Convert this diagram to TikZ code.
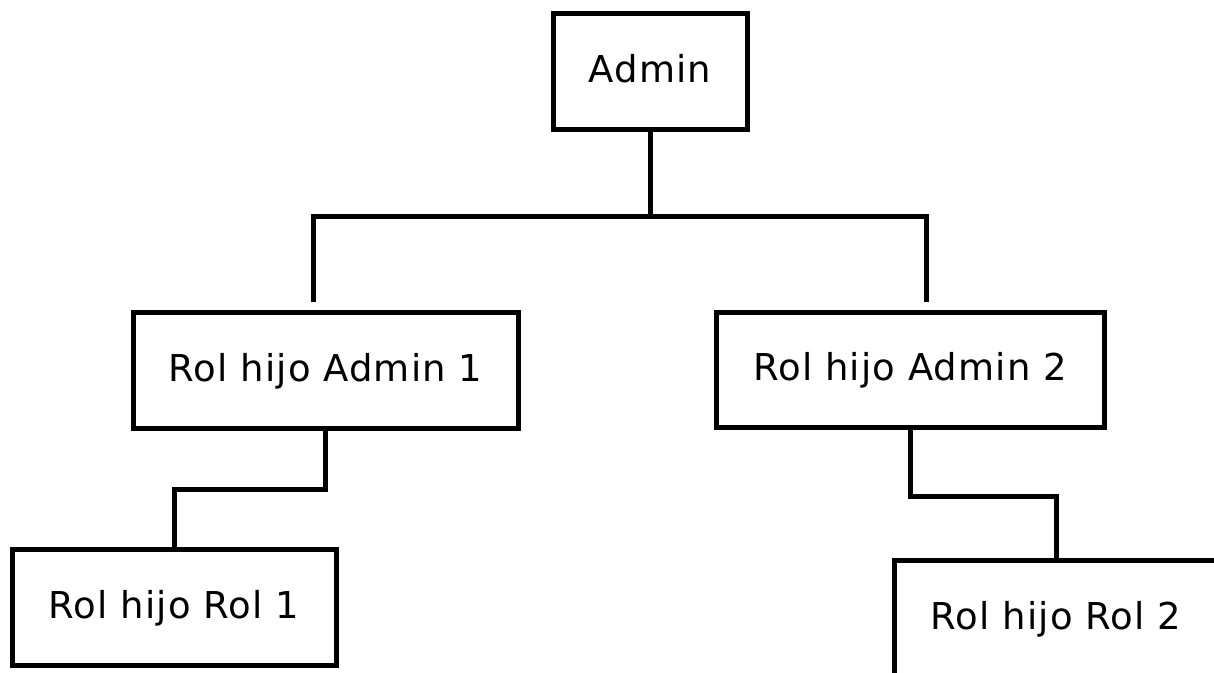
\documentclass[tikz,border=0pt]{standalone}
\usepackage{fontspec}
\setmainfont{DejaVu Sans}[LetterSpace=3]
\usetikzlibrary{calc}
\tikzset{
  box/.style={draw=black, line width=5pt, fill=white, inner sep=0pt,
    text height=22pt, text depth=0pt,
    font=\fontsize{37}{40}\selectfont},
  conn/.style={draw=black, line width=5pt}
}
\begin{document}
\begin{tikzpicture}[x=1pt, y=-1pt]
  \clip (0,0) rectangle (1214,672);
  \fill[white] (0,0) rectangle (1214,672);
  \node[box, minimum width=194pt, minimum height=116pt] (admin) at (650,71) {Admin};
  \node[box, minimum width=385pt, minimum height=116pt] (c1) at (325.5,370) {Rol hijo Admin 1};
  \node[box, minimum width=388pt, minimum height=115pt] (c2) at (910,369.5) {Rol hijo Admin 2};
  \node[box, minimum width=324pt, minimum height=116pt] (g1) at (174,607) {Rol hijo Rol 1};
  \node[box, minimum width=324pt, minimum height=116pt] (g2) at (1056,618) {Rol hijo Rol 2};
  \coordinate (bus) at (650,216);
  \coordinate (c1top) at ($(c1.north)+(-12.5,-8)$);
  \coordinate (c2top) at ($(c2.north)+(16,-8)$);
  \draw[conn] (admin.south) -- (bus);
  \draw[conn] (c1top) |- (bus) -| (c2top);
  \draw[conn] (c1.south) -- ++(0,59) -| (g1.north);
  \draw[conn] (c2.south) -- ++(0,67) -| (g2.north);
\end{tikzpicture}
\end{document}
